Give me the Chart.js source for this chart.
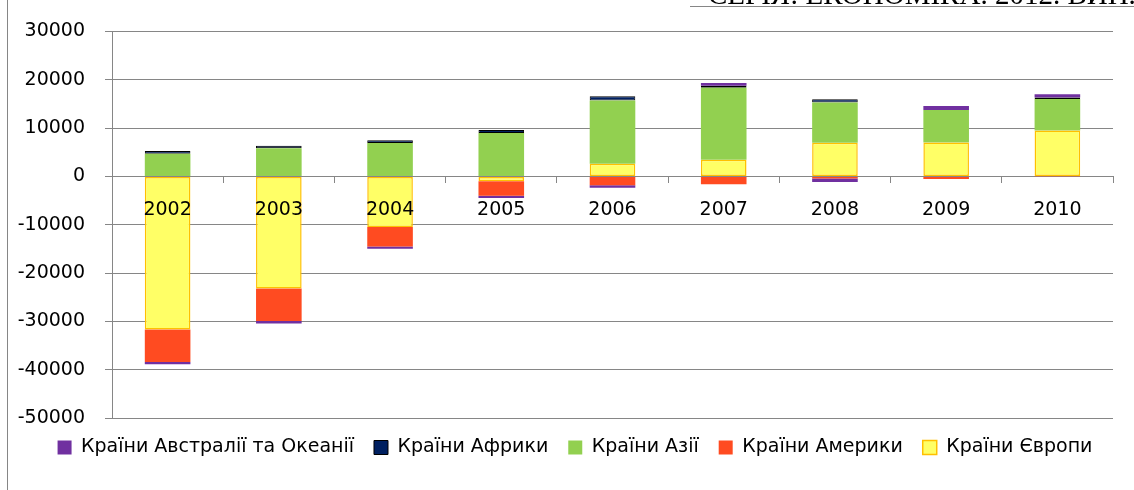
<!DOCTYPE html>
<html>
<head>
<meta charset="utf-8">
<script src="https://cdn.jsdelivr.net/npm/chart.js@4"></script>
<style>
  html, body { margin: 0; padding: 0; background: #fff; }
  canvas { display: block; }
</style>
</head>
<body>
<canvas id="chart" width="1134" height="490"></canvas>
<script>
// years on the category axis
const years = ['2002', '2003', '2004', '2005', '2006', '2007', '2008', '2009', '2010'];

// values per region
const europe    = [-31700, -23200, -10500, -1000, 2600, 3450, 6950, 7000, 9500];
const america   = [-6700, -6750, -4000, -3000, -1850, -1650, -450, -550, -100];
const asia      = [4700, 5800, 6900, 9000, 13100, 14900, 8350, 6750, 6500];
const africa    = [550, 550, 550, 600, 900, 400, 650, 0, 300];
const australia = [-500, -500, -500, -500, -500, 550, -700, 800, 700];

const yTicks = [30000, 20000, 10000, 0, -10000, -20000, -30000, -40000, -50000];

const FONT = 'DejaVu Sans';
const GRID = 'rgb(134,134,134)';

// left frame and the clipped page header above the chart
const decor = {
  id: 'decor',
  afterDraw(chart) {
    const ctx = chart.ctx;
    ctx.save();
    ctx.strokeStyle = GRID;
    ctx.lineWidth = 1;
    ctx.beginPath();
    ctx.moveTo(7.5, 0);
    ctx.lineTo(7.5, 490);
    ctx.stroke();
    ctx.fillStyle = '#000';
    ctx.font = '29px "Liberation Serif"';
    ctx.textBaseline = 'alphabetic';
    ctx.fillText('СЕРІЯ: ЕКОНОМІКА. 2012. ВИП.', 708, 4);
    ctx.beginPath();
    ctx.moveTo(690, 6.5);
    ctx.lineTo(1134, 6.5);
    ctx.stroke();
    ctx.restore();
  }
};

const bar = (label, data, bg, border, bw) => ({
  label,
  data,
  yAxisID: 'y',
  backgroundColor: bg,
  borderColor: border,
  borderWidth: bw,
  borderSkipped: false,
  stack: 's',
  barPercentage: 0.41,
  categoryPercentage: 1
});

new Chart(document.getElementById('chart'), {
  type: 'bar',
  data: {
    labels: years,
    datasets: [
      bar('Країни Європи', europe, '#FFFF66', '#FFC000', 1.5),
      bar('Країни Америки', america, '#FF4B21', '#FF4B21', 0),
      bar('Країни Азії', asia, '#92D050', '#92D050', 0),
      bar('Країни Африки', africa, '#002060', '#000000', 1),
      bar('Країни Австралії та Океанії', australia, '#7030A0', '#7030A0', 0)
    ]
  },
  options: {
    responsive: false,
    animation: false,
    layout: { padding: { left: 16, right: 0, top: 30, bottom: 23 } },
    scales: {
      x: {
        stacked: true,
        position: { y: 0 },
        border: { display: false },
        grid: {
          offset: true,
          drawOnChartArea: false,
          drawTicks: true,
          tickLength: 7,
          color: GRID
        },
        ticks: { z: 1, color: '#000', padding: 15, font: { family: FONT, size: 19 } }
      },
      y: {
        stacked: true,
        min: -50000,
        max: 30000,
        afterFit: s => { s.width = 96; },
        afterBuildTicks: s => { s.ticks = yTicks.map(v => ({ value: v })); },
        border: { display: true, color: GRID },
        grid: { color: GRID, tickLength: 7 },
        ticks: {
          color: '#000',
          padding: 20,
          font: { family: FONT, size: 19 },
          callback: v => String(v)
        }
      },
      // empty strip on the right so the plot ends where the original does
      y2: {
        type: 'linear',
        position: 'right',
        afterFit: s => { s.width = 21; },
        border: { display: false },
        grid: { display: false },
        ticks: { display: false }
      }
    },
    plugins: {
      legend: {
        position: 'bottom',
        reverse: true,
        labels: {
          color: '#000',
          boxWidth: 14,
          boxHeight: 14,
          padding: 20,
          font: { family: FONT, size: 19 }
        }
      },
      tooltip: { enabled: false }
    }
  },
  plugins: [decor]
});
</script>
</body>
</html>
